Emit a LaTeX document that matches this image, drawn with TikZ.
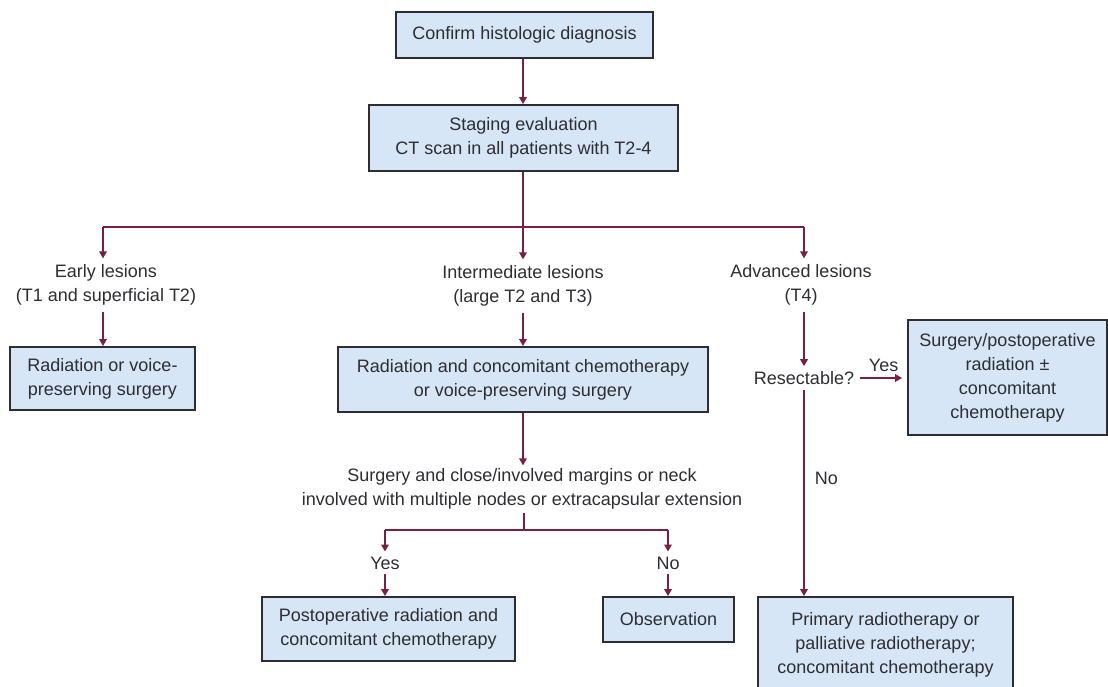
\documentclass[tikz,border=0pt]{standalone}
\usepackage{fontspec}
\setmainfont{Liberation Sans}
\usetikzlibrary{arrows.meta}
\definecolor{boxfill}{RGB}{214,230,246}
\definecolor{boxline}{RGB}{45,45,50}
\definecolor{arrcol}{RGB}{122,30,70}
\definecolor{txt}{RGB}{45,45,50}
\tikzset{
  every node/.style={text=txt, font=\fontsize{18}{24}\selectfont, align=center},
  box/.style={draw=boxline, line width=1.8pt, fill=boxfill, inner sep=0pt},
  lbl/.style={inner sep=4pt},
  conn/.style={draw=arrcol, line width=1.7pt},
  arr/.style={conn, -{Triangle[length=7pt,width=7.5pt]}},
}
\begin{document}
\begin{tikzpicture}[x=1pt,y=-1pt]
\useasboundingbox (0,0) rectangle (1108,687);
\clip (0,0) rectangle (1108,687);
% boxes
\node[box, minimum width=257, minimum height=46] (c1) at (524.5,35) {Confirm histologic diagnosis};
\node[box, minimum width=309, minimum height=66] (c2) at (523.5,138) {Staging evaluation\\CT scan in all patients with T2-4};
\node[lbl, inner sep=6pt] (early) at (106,285) {Early lesions\\(T1 and superficial T2)};
\node[lbl, inner sep=6pt] (inter) at (523,286) {Intermediate lesions\\(large T2 and T3)};
\node[lbl, inner sep=6pt] (adv) at (801,285) {Advanced lesions\\(T4)};
\node[box, minimum width=185, minimum height=63] (ebox) at (102.5,378.5) {Radiation or voice-\\preserving surgery};
\node[box, minimum width=370, minimum height=65] (mbox) at (523,379.5) {Radiation and concomitant chemotherapy\\or voice-preserving surgery};
\node[lbl, inner sep=5pt] (res) at (804,378) {Resectable?};
\node[box, minimum width=199, minimum height=115] (rbox) at (1007.5,377.5) {Surgery/postoperative\\radiation ±\\concomitant\\chemotherapy};
\node[lbl, inner sep=3pt] (surg) at (522,489) {Surgery and close/involved margins or neck\\involved with multiple nodes or extracapsular extension};
\node[lbl, inner sep=5pt] (yes) at (385,563) {Yes};
\node[lbl, inner sep=5pt] (no) at (668,563) {No};
\node[box, minimum width=253, minimum height=64] (pbox) at (388.5,629) {Postoperative radiation and\\concomitant chemotherapy};
\node[box, minimum width=131, minimum height=45] (obox) at (668.5,619.5) {Observation};
\node[box, minimum width=255, minimum height=96] (brbox) at (885.5,645) {Primary radiotherapy or\\palliative radiotherapy;\\concomitant chemotherapy};
% coordinates
\coordinate (split) at (523,227);
\coordinate (hl) at (103,227);
\coordinate (hr) at (804,227);
\coordinate (split2) at (524,530);
\coordinate (yl) at (385,530);
\coordinate (nr) at (668,530);
% connectors
\draw[arr] (c1.south -| split) -- (c2.north -| split);
\draw[conn] (c2.south -| split) -- (split);
\draw[conn] (hl) -- (hr);
\draw[arr] (hl) -- (hl |- early.north);
\draw[arr] (split) -- (inter.north -| split);
\draw[arr] (hr) -- (hr |- adv.north);
\draw[arr] (hl |- early.south) -- (hl |- ebox.north);
\draw[arr] (split |- inter.south) -- (split |- mbox.north);
\draw[arr] (hr |- adv.south) -- (res.north);
\draw[arr, shorten >=5pt] ([xshift=1pt]res.east) -- node[above, inner sep=5pt] (yeslbl) {Yes} (rbox.west |- res.east);
\draw[arr] (res.south) -- node[right, pos=0.43, inner sep=10pt] (nolbl) {No} (res.south |- brbox.north);
\draw[arr] (split |- mbox.south) -- (split |- surg.north);
\draw[conn] (split2 |- surg.south) -- (split2);
\draw[conn] (yl) -- (nr);
\draw[arr] (yl) -- (yes.north);
\draw[arr] (nr) -- (no.north);
\draw[arr] (yes.south) -- (yes.south |- pbox.north);
\draw[arr] (no.south) -- (no.south |- obox.north);
\end{tikzpicture}
\end{document}
